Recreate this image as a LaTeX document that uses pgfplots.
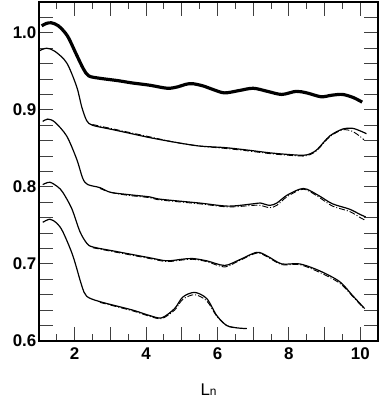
\documentclass[border=0pt]{standalone}
\usepackage{pgfplots}
\pgfplotsset{compat=1.18}
\usepackage{fontspec}
\setmainfont{Liberation Sans}

\pgfplotsset{
  solidc/.style={black, line width=1.2pt, smooth, tension=0.5, no marks},
  dashc/.style={black, line width=0.9pt, smooth, tension=0.5, no marks,
    dash pattern=on 6pt off 2pt on 1pt off 2pt},
}

\begin{document}
\begin{tikzpicture}
\begin{axis}[
    scale only axis,
    width=341pt, height=340.5pt,
    xmin=1, xmax=10.5,
    ymin=0.6, ymax=1.04,
    axis line style={line width=1.6pt},
    tick style={black!75, line width=0.9pt},
    major tick length=14pt,
    minor tick length=7pt,
    tick align=inside,
    xtick={1,2,...,10},
    xticklabels={,2,,4,,6,,8,,10},
    minor x tick num=1,
    ytick={0.6,0.62,0.64,0.66,0.68,0.7,0.72,0.74,0.76,0.78,0.8,0.82,0.84,0.86,0.88,0.9,0.92,0.94,0.96,0.98,1.0,1.02},
    yticklabels={0.6,,,,,0.7,,,,,0.8,,,,,0.9,,,,,1.0,},
    ticklabel style={font=\fontsize{17}{17}\selectfont\bfseries},
    yticklabel style={xshift=1pt},
    xticklabel style={yshift=-3pt},
    xlabel={L{\fontsize{12}{12}\selectfont n}},
    xlabel style={at={(axis description cs:0.5,0)}, anchor=base, yshift=-55pt,
      font=\fontsize{17}{17}\selectfont},
]
% top curve (thick)
\addplot[black, line width=3.2pt, smooth, tension=0.5] coordinates {
 (1.08,1.009) (1.2,1.012) (1.35,1.013) (1.55,1.009) (1.8,0.996) (2.05,0.972)
 (2.25,0.953) (2.4,0.944) (2.7,0.941) (3.2,0.938) (3.6,0.935) (4.1,0.932)
 (4.6,0.928) (4.9,0.930) (5.1,0.933) (5.3,0.934) (5.6,0.931) (5.9,0.926)
 (6.2,0.922) (6.6,0.925) (7.0,0.928) (7.4,0.924) (7.8,0.920) (8.2,0.924)
 (8.5,0.922) (8.9,0.917) (9.2,0.919) (9.5,0.920) (9.8,0.916) (10.05,0.910)
};
% curve 2
\addplot[solidc] coordinates {
 (1.03,0.977) (1.22,0.980) (1.45,0.976) (1.78,0.961) (2.06,0.930) (2.2,0.904)
 (2.34,0.886) (2.5,0.880) (3.0,0.875) (3.5,0.870) (4.1,0.864) (4.8,0.858)
 (5.5,0.853) (6.2,0.851) (6.8,0.848) (7.5,0.844) (8.0,0.842) (8.4,0.841)
 (8.6,0.843) (8.8,0.849) (9.14,0.866) (9.5,0.875) (9.78,0.876) (10.03,0.872) (10.17,0.869)
};
\addplot[dashc] coordinates {
 (2.5,0.881) (3.0,0.876) (3.5,0.871) (4.1,0.865) (4.8,0.858)
 (5.5,0.853) (6.2,0.850) (6.8,0.847) (7.5,0.843) (8.0,0.841) (8.4,0.840)
 (8.6,0.842) (8.8,0.848) (9.14,0.865) (9.5,0.874) (9.78,0.872) (10.03,0.864) (10.1,0.861)
};
% curve 3
\addplot[solidc] coordinates {
 (1.11,0.885) (1.25,0.888) (1.45,0.884) (1.78,0.866) (2.06,0.836) (2.23,0.811)
 (2.37,0.803) (2.71,0.799) (3.0,0.793) (3.5,0.790) (4.1,0.787) (4.4,0.784)
 (5.5,0.779) (6.3,0.775) (7.0,0.778) (7.2,0.779) (7.46,0.776) (7.66,0.779)
 (7.94,0.789) (8.3,0.797) (8.5,0.797) (8.86,0.788) (9.22,0.778) (9.7,0.771)
 (10.0,0.764) (10.15,0.761)
};
\addplot[dashc] coordinates {
 (2.71,0.798) (3.0,0.793) (3.5,0.789) (4.1,0.786) (4.4,0.783)
 (5.5,0.778) (6.3,0.774) (7.0,0.776) (7.2,0.776) (7.46,0.773) (7.66,0.776)
 (7.94,0.787) (8.3,0.796) (8.5,0.796) (8.86,0.786) (9.22,0.775) (9.7,0.768)
 (10.0,0.760) (10.12,0.757)
};
% curve 4
\addplot[solidc] coordinates {
 (1.11,0.803) (1.31,0.806) (1.53,0.800) (1.67,0.793) (1.92,0.772) (2.15,0.742)
 (2.34,0.727) (2.51,0.722) (3.18,0.716) (4.1,0.708) (4.58,0.704) (5.0,0.706)
 (5.3,0.707) (5.7,0.704) (6.2,0.698) (6.6,0.705) (7.1,0.715) (7.4,0.710)
 (7.8,0.700) (8.3,0.700) (8.86,0.691) (9.42,0.677) (9.78,0.659) (10.12,0.642)
};
\addplot[dashc] coordinates {
 (2.51,0.721) (3.18,0.715) (4.1,0.707) (4.58,0.703) (5.0,0.705)
 (5.3,0.706) (5.7,0.703) (6.2,0.696) (6.6,0.704) (7.1,0.714) (7.4,0.709)
 (7.8,0.699) (8.3,0.699) (8.86,0.689) (9.42,0.675) (9.78,0.658) (10.1,0.642)
};
% curve 5
\addplot[solidc] coordinates {
 (1.11,0.754) (1.31,0.758) (1.5,0.753) (1.67,0.742) (1.95,0.711) (2.2,0.672)
 (2.34,0.658) (2.71,0.651) (3.63,0.640) (4.1,0.633) (4.44,0.630) (4.8,0.642)
 (5.03,0.657) (5.36,0.663) (5.7,0.655) (5.98,0.633) (6.26,0.620) (6.54,0.617) (6.82,0.616)
};
\addplot[dashc] coordinates {
 (2.71,0.650) (3.63,0.639) (4.1,0.632) (4.44,0.629) (4.8,0.640)
 (5.03,0.654) (5.36,0.660) (5.7,0.652) (5.98,0.632) (6.26,0.620) (6.54,0.617)
};
\end{axis}
\path (-39pt,-56.5pt) rectangle (343pt,342.5pt);
\end{tikzpicture}
\end{document}
